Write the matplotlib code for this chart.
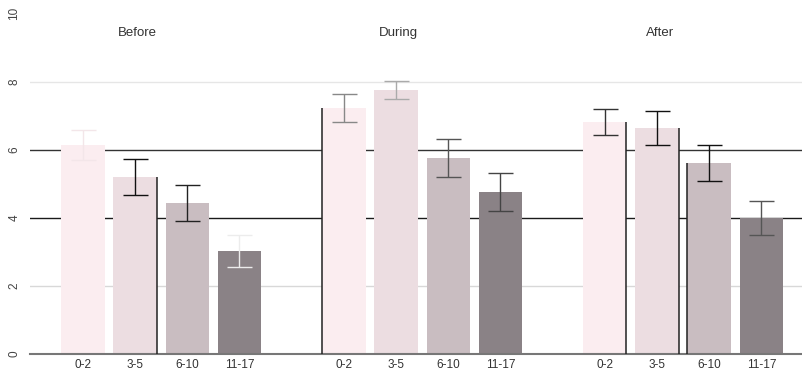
import matplotlib
matplotlib.use("Agg")
import matplotlib.pyplot as plt
import numpy as np

plt.rcParams['font.family'] = ['Liberation Sans', 'DejaVu Sans']

# data
periods = ['Before', 'During', 'After']
ages = ['0-2', '3-5', '6-10', '11-17']
before = [6.13, 5.19, 4.43, 3.01]
during = [7.22, 7.75, 5.75, 4.75]
after = [6.81, 6.63, 5.60, 3.99]
before_err = [0.45, 0.52, 0.52, 0.47]
during_err = [0.42, 0.27, 0.55, 0.55]
after_err = [0.38, 0.50, 0.53, 0.50]

colors = ['#fbedf0', '#ecdde1', '#c9bdc1', '#8a8286']
err_colors = [['#f3e6e9', '#111111', '#222222', '#ececec'],
              ['#888888', '#aaaaaa', '#555555', '#444444'],
              ['#333333', '#111111', '#111111', '#555555']]
# bar sides that show a dark edge line in the original
edges = [(0, 1, 'right'), (1, 0, 'left'), (2, 0, 'right'), (2, 1, 'right'), (2, 2, 'left')]

fig = plt.figure(figsize=(8.02, 3.75), dpi=100)
ax = fig.add_axes([0.0374, 0.0573, 0.9626, 0.9427])

width = 0.83
values = [before, during, after]
errs = [before_err, during_err, after_err]
bars_all = []
for g in range(3):
    pos = np.arange(4) + g * 5
    bars = ax.bar(pos, values[g], width=width, color=colors, zorder=2)
    bars_all.append(bars)
    for i in range(4):
        ax.errorbar(pos[i], values[g][i], yerr=errs[g][i], fmt='none',
                    ecolor=err_colors[g][i], elinewidth=1.0, capsize=9,
                    capthick=1.0, zorder=3)
    ax.text(g * 5 + 1.05, 9.43, periods[g], ha='center', va='center',
            fontsize=9.5, color='#333333')

for g, i, side in edges:
    b = bars_all[g][i]
    x = b.get_x() + (b.get_width() if side == 'right' else 0)
    ax.vlines(x, 0, b.get_height(), color='#222222', lw=1.1, zorder=3)

# horizontal reference lines
for yv, c in [(2, '#d8d8d8'), (4, '#1a1a1a'), (6, '#333333'), (8, '#e6e6e6')]:
    ax.axhline(yv, color=c, lw=1.0, zorder=1)

ax.set_xlim(-1.015, 13.78)
ax.set_ylim(0, 10.4)
ax.set_xticks([g * 5 + i for g in range(3) for i in range(4)])
ax.set_xticklabels(ages * 3, fontsize=8.5, color='#333333')
ax.tick_params(axis='x', length=0, pad=4)
ax.set_yticks([0, 2, 4, 6, 8, 10])
ax.set_yticklabels(['0', '2', '4', '6', '8', '10'], rotation=90, va='center',
                   fontsize=8.5, color='#444444')
ax.tick_params(axis='y', length=0, pad=7)

for s in ['top', 'right', 'left']:
    ax.spines[s].set_visible(False)
ax.spines['bottom'].set_color('#777777')
ax.spines['bottom'].set_linewidth(1.5)

fig.savefig('out.png', dpi=100)
